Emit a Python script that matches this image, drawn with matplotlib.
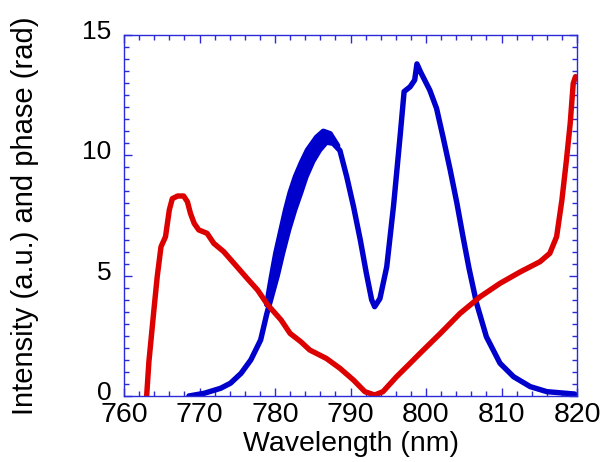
import numpy as np
import matplotlib
matplotlib.use("Agg")
import matplotlib.pyplot as plt
from matplotlib.transforms import ScaledTranslation

plt.rcParams['font.family'] = ['Liberation Sans', 'DejaVu Sans']

# Spectral intensity (a.u.)
wl_int = [768.6, 770.6, 772.8, 774.1, 775.5, 776.8, 778.1, 778.9, 779.6, 780.3,
          781.0, 781.8, 782.6, 783.4, 784.1, 785.0, 785.9, 786.8, 787.7, 788.6,
          789.5, 790.4, 791.3, 792.1, 792.8, 793.2, 793.9, 794.8, 795.7, 796.6,
          797.1, 797.9, 798.5, 798.8, 799.3, 800.5, 801.4, 802.3, 803.2, 804.1,
          804.9, 805.7, 806.7, 808.0, 809.8, 811.6, 813.8, 816.0, 819.7]
intensity = [0.0, 0.11, 0.32, 0.53, 0.94, 1.5, 2.33, 3.4, 4.2, 5.0,
             5.93, 6.9, 7.73, 8.45, 9.11, 9.75, 10.22, 10.55, 10.5, 10.2,
             9.11, 7.87, 6.48, 5.1, 4.0, 3.71, 4.05, 5.37, 7.9, 10.9,
             12.65, 12.85, 13.13, 13.8, 13.45, 12.71, 11.95, 10.7, 9.4, 8.0,
             6.62, 5.3, 3.85, 2.46, 1.36, 0.8, 0.39, 0.18, 0.08]

# Upper envelope of the fringing part of the intensity trace
wl_env = [778.9, 779.5, 780.1, 780.8, 781.4, 782.0, 782.7, 783.5, 784.3, 785.5,
          786.4, 787.3, 788.3]
intensity_env = [3.8, 4.9, 5.93, 6.9, 7.73, 8.45, 9.11, 9.7, 10.22, 10.75,
                 11.0, 10.9, 10.4]

# Spectral phase (rad)
wl_phase = [763.0, 763.3, 764.0, 764.4, 764.9, 765.5, 766.0, 766.4, 767.1, 767.9,
            768.4, 768.8, 769.3, 769.9, 771.0, 771.9, 773.2, 774.6, 776.3, 777.7,
            779.0, 780.8, 782.0, 783.4, 784.6, 786.8, 788.6, 790.4, 791.9, 793.2,
            794.3, 796.1, 797.9, 799.2, 801.9, 804.5, 807.2, 809.8, 812.5, 815.1,
            816.4, 817.3, 818.0, 818.6, 819.1, 819.5, 819.8]
phase = [0.0, 1.43, 3.7, 4.96, 6.2, 6.62, 7.73, 8.2, 8.31, 8.31,
         8.07, 7.59, 7.17, 6.9, 6.76, 6.34, 6.0, 5.5, 4.89, 4.4,
         3.8, 3.16, 2.6, 2.26, 1.91, 1.56, 1.15, 0.66, 0.18, 0.04,
         0.18, 0.8, 1.36, 1.77, 2.6, 3.43, 4.13, 4.68, 5.16, 5.58,
         5.93, 6.62, 8.14, 9.8, 11.33, 12.99, 13.27]

frame_color = '#2a2ad8'
blue = '#0000cc'
red = '#dd0000'

fig = plt.figure(figsize=(6.04, 4.62), dpi=100)
ax = fig.add_axes([0.2053, 0.1429, 0.75, 0.7813])

lo = np.interp(wl_env, wl_int, intensity)
ax.fill_between(wl_env, lo, intensity_env, color=blue, lw=0)
ax.plot(wl_env, intensity_env, color=blue, lw=3.9, solid_capstyle='round')
ax.plot(wl_int, intensity, color=blue, lw=3.9, solid_capstyle='round')
ax.plot(wl_phase, phase, color=red, lw=3.9, solid_capstyle='round')

ax.set_xlim(760, 820)
ax.set_ylim(0, 15)
ax.set_xticks(np.arange(760, 821, 10))
ax.set_xticks(np.arange(760, 821, 2), minor=True)
ax.set_yticks([0, 5, 10, 15])
ax.set_yticks(np.arange(0, 15.01, 0.5), minor=True)

for s in ax.spines.values():
    s.set_color(frame_color)
    s.set_linewidth(1.0)
ax.tick_params(which='both', direction='in', top=True, right=True,
               color=frame_color, width=1.0)
ax.tick_params(which='major', length=6)
ax.tick_params(which='minor', length=3.5)
ax.tick_params(axis='x', which='major', pad=4, labelsize=20.5)
ax.tick_params(axis='y', which='major', pad=9, labelsize=19)

# lift the y tick labels slightly
lift = ScaledTranslation(0, 4 / 72, fig.dpi_scale_trans)
for lab in ax.get_yticklabels():
    lab.set_transform(lab.get_transform() + lift)

ax.set_xlabel('Wavelength (nm)', fontsize=20.5)
ax.set_ylabel('Intensity (a.u.) and phase (rad)', fontsize=21)
ax.xaxis.set_label_coords(0.5, -0.097)
ax.yaxis.set_label_coords(-0.188, 0.5)

fig.savefig('out.png', dpi=100)
